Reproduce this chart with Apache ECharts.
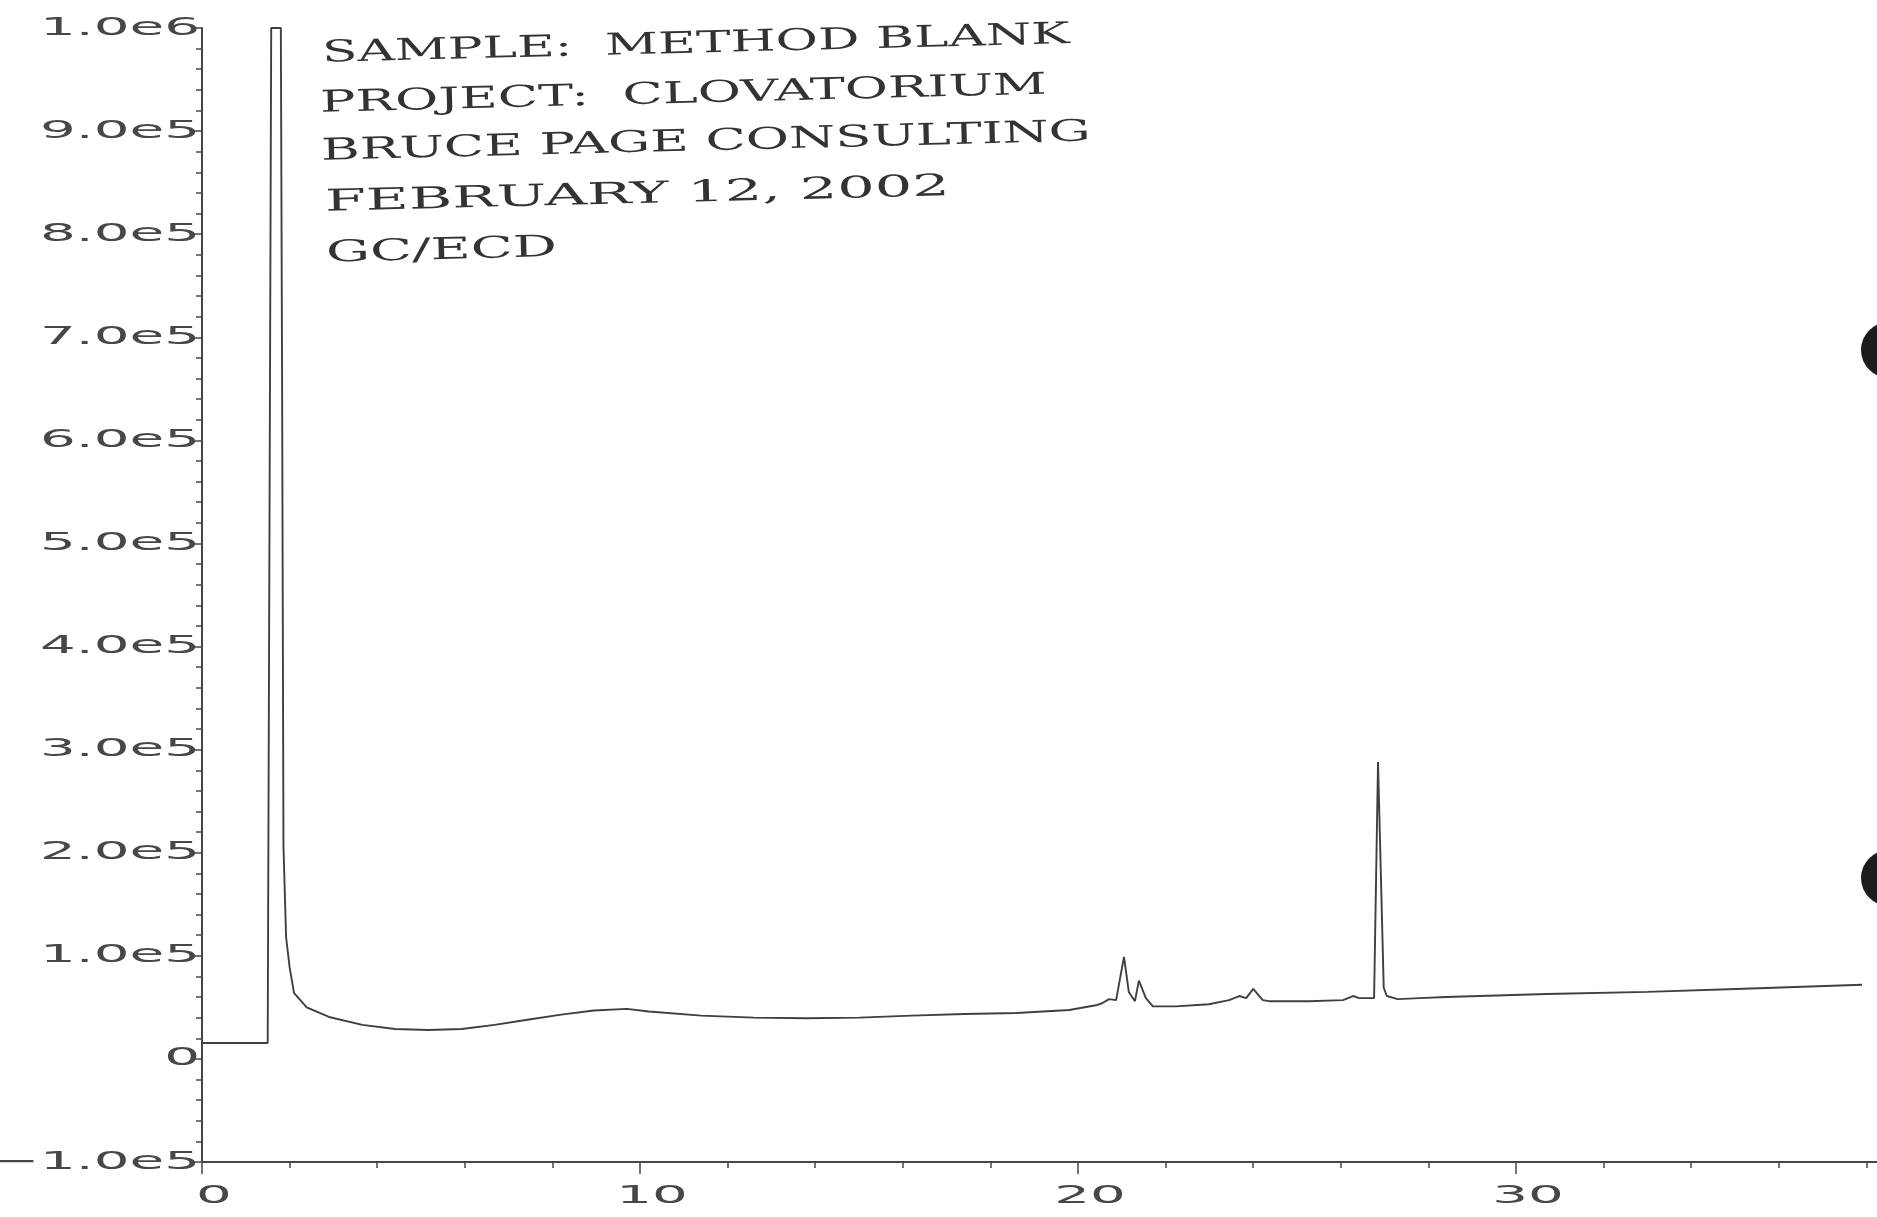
<!DOCTYPE html>
<html>
<head>
<meta charset="utf-8">
<script src="https://cdn.jsdelivr.net/npm/echarts@6/dist/echarts.min.js"></script>
<style>
html,body{margin:0;padding:0;background:#ffffff;overflow:hidden;}
#chart{width:1877px;height:1217px;}
</style>
</head>
<body>
<div id="chart"></div>
<script>
// ---- data ----
const retentionTimes = [
  0, 1.50, 1.58, 1.80, 1.83, 1.86, 1.92, 2.00, 2.10, 2.39,
  2.90, 3.66, 4.41, 5.16, 5.93, 6.68, 7.43, 8.20, 8.95, 9.70,
  10.20, 11.40, 12.60, 13.80, 15.00, 16.20, 17.40, 18.60, 19.80, 20.41,
  20.55, 20.71, 20.87, 21.05, 21.16, 21.30, 21.39, 21.55, 21.71, 22.24,
  22.99, 23.45, 23.68, 23.84, 24.00, 24.22, 24.36, 25.27, 26.05, 26.28,
  26.42, 26.76, 26.85, 26.98, 27.05, 27.30, 27.80, 28.40, 30.70, 33.00,
  35.20, 37.90
];
const detectorSignal = [
  15500, 15500, 1000000, 1000000, 640000, 206000, 118000, 89000, 64000, 50000,
  40700, 33000, 29000, 28000, 29000, 33000, 38000, 43000, 47000, 48500,
  46000, 42000, 40000, 39500, 40000, 42000, 43500, 44500, 47500, 52000,
  54000, 58000, 57000, 99000, 65000, 56000, 76000, 59000, 51000, 51000,
  53000, 57000, 61000, 59000, 68000, 57000, 56000, 56000, 57000, 61000,
  59000, 59000, 288000, 69000, 61000, 58000, 59000, 60000, 63000, 65000,
  68000, 72000
];
const xTickValues = [0, 10, 20, 30];
const xTickLabels = ['0', '10', '20', '30'];
const yTickValues = [-100000, 0, 100000, 200000, 300000, 400000, 500000, 600000, 700000, 800000, 900000, 1000000];
const yTickLabels = ['\u22121.0e5', '0', '1.0e5', '2.0e5', '3.0e5', '4.0e5', '5.0e5', '6.0e5', '7.0e5', '8.0e5', '9.0e5', '1.0e6'];
const headerLines = ['SAMPLE:  METHOD BLANK', 'PROJECT:  CLOVATORIUM', 'BRUCE PAGE CONSULTING', 'FEBRUARY 12, 2002', 'GC/ECD'];

// ---- layout (positions / styles) ----
const headerLayout = [
  {x: 322, y: 54, w: 748},
  {x: 320, y: 104, w: 727},
  {x: 321, y: 152, w: 770},
  {x: 325, y: 203, w: 625},
  {x: 326, y: 254, w: 231}
];
const INK = '#474747';

const chart = echarts.init(document.getElementById('chart'), null, {renderer: 'canvas'});
chart.setOption({
  animation: false,
  backgroundColor: '#ffffff',
  grid: {left: 202, top: 28, width: 1752, height: 1134, containLabel: false, outerBoundsMode: 'none'},
  xAxis: {
    type: 'value', min: 0, max: 40, interval: 10,
    axisLine: {show: true, onZero: false, lineStyle: {color: INK, width: 2}},
    axisTick: {show: true, length: 12, lineStyle: {color: INK, width: 1.5}},
    minorTick: {show: true, splitNumber: 5, length: 6, lineStyle: {color: INK, width: 1.5}},
    axisLabel: {show: false},
    splitLine: {show: false}
  },
  yAxis: {
    type: 'value', min: -100000, max: 1000000, interval: 100000,
    axisLine: {show: true, onZero: false, lineStyle: {color: INK, width: 2}},
    axisTick: {show: true, length: 9, lineStyle: {color: INK, width: 1.5}},
    minorTick: {show: true, splitNumber: 5, length: 6, lineStyle: {color: INK, width: 1.5}},
    axisLabel: {show: false},
    splitLine: {show: false}
  },
  series: [{
    type: 'line',
    data: retentionTimes.map((t, i) => [t, detectorSignal[i]]),
    showSymbol: false,
    symbol: 'none',
    clip: true,
    lineStyle: {color: '#3f3f3f', width: 1.9}
  }]
});

// ---- text drawn through the axes' own scales ----
const mctx = document.createElement('canvas').getContext('2d');
function textWidth(t, font) { mctx.font = font; return mctx.measureText(t).width; }

const tickFont = '25px "DejaVu Sans"';
const tickScale = 160 / textWidth('9.0e5', tickFont);
const headerFont = '30px "DejaVu Serif"';

const axisX = chart.convertToPixel({xAxisIndex: 0}, 0);
const axisY = chart.convertToPixel({yAxisIndex: 0}, -100000);
const graphics = [];

yTickValues.forEach((v, i) => {
  graphics.push({
    type: 'text', silent: true,
    x: axisX - 2, y: chart.convertToPixel({yAxisIndex: 0}, v),
    scaleX: tickScale,
    style: {text: yTickLabels[i], font: tickFont, fill: INK, textAlign: 'right', verticalAlign: 'middle', textVerticalAlign: 'middle'}
  });
});
xTickValues.forEach((v, i) => {
  graphics.push({
    type: 'text', silent: true,
    x: chart.convertToPixel({xAxisIndex: 0}, v) + 12, y: axisY + 34,
    scaleX: tickScale,
    style: {text: xTickLabels[i], font: tickFont, fill: INK, textAlign: 'center', verticalAlign: 'middle', textVerticalAlign: 'middle'}
  });
});
headerLines.forEach((t, i) => {
  const L = headerLayout[i];
  graphics.push({
    type: 'text', silent: true,
    x: L.x, y: L.y, rotation: 0.025,
    scaleX: L.w / textWidth(t, headerFont),
    style: {text: t, font: headerFont, fill: '#333333', textAlign: 'left', verticalAlign: 'middle', textVerticalAlign: 'middle'}
  });
});
// binder punch holes at the right edge of the scanned sheet
graphics.push({type: 'circle', silent: true, shape: {cx: 1889, cy: 350, r: 28}, style: {fill: '#1c1c1c'}});
graphics.push({type: 'circle', silent: true, shape: {cx: 1889, cy: 878, r: 28}, style: {fill: '#1c1c1c'}});

chart.setOption({graphic: graphics});
</script>
</body>
</html>
